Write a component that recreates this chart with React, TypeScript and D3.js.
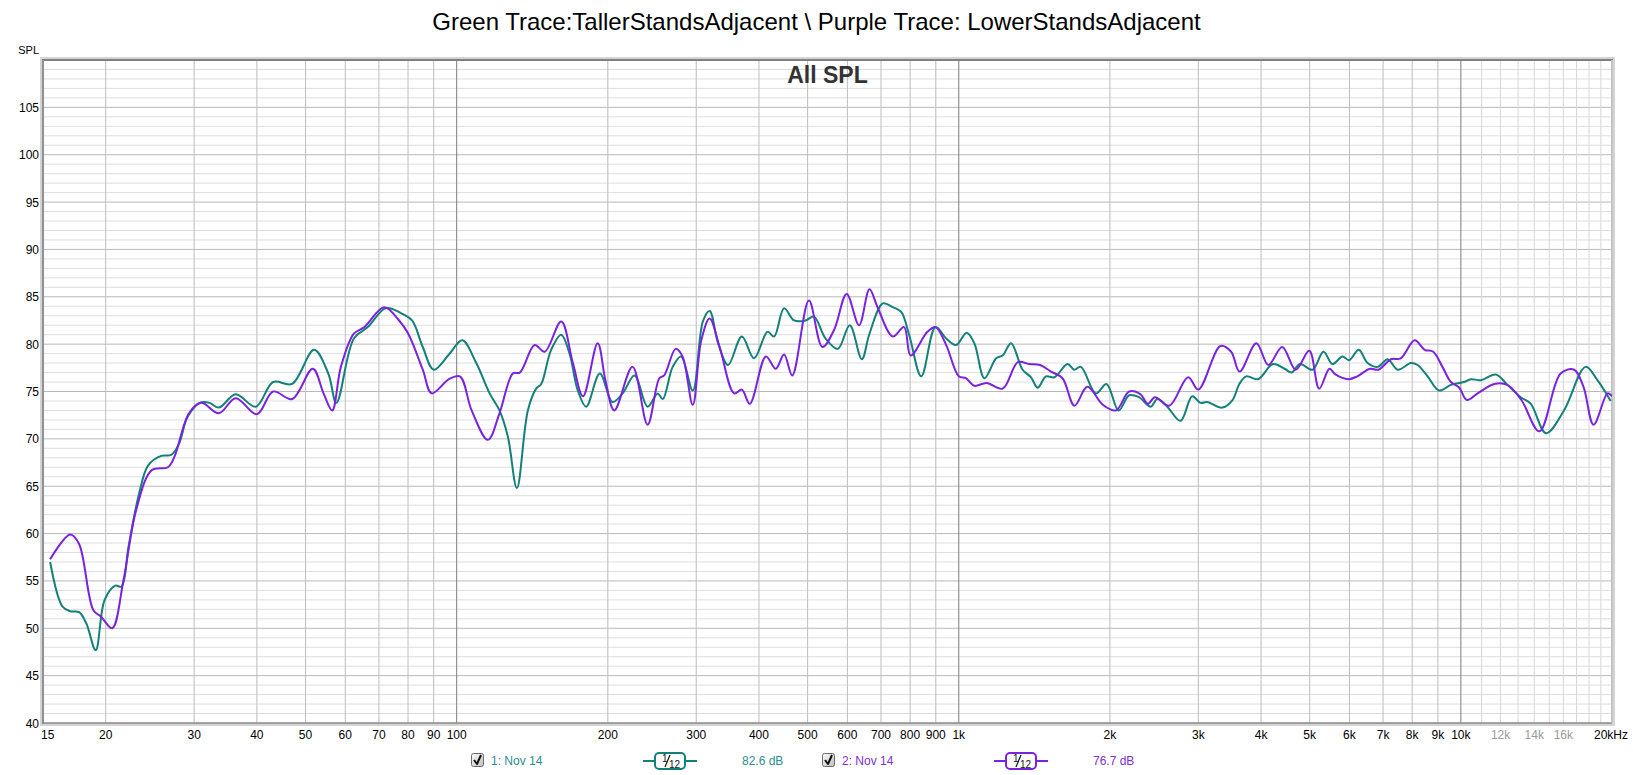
import React from 'react';
import * as d3 from 'd3';

// trace 1 (green) - TallerStandsAdjacent
const greenFreq = [
  15.5, 16.4, 17.0, 17.7, 18.3, 19.1, 19.9, 20.9, 21.5, 22.2, 23.3, 24.3, 25.8, 27.0, 28.0, 29.1,
  30.8, 32.2, 33.6, 36.3, 39.8, 43.1, 47.0, 52.0, 55.5, 57.6, 62.4, 66.5, 72.3, 77.9, 81.5, 85.6,
  90.0, 96.5, 102.6, 109.4, 116.3, 121.7, 126.5, 131.8, 138.6, 144.0, 147.4, 154.2, 161.5, 167.8,
  174.3, 181.1, 192.8, 204.3, 214.1, 226.0, 240.0, 251.4, 257.3, 269.3, 279.9, 295.3, 309.3, 319.0,
  331.6, 347.2, 369.8, 391.0, 416.0, 428.8, 448.8, 470.0, 495.5, 514.7, 542.7, 574.1, 606.6, 641.1,
  664, 706, 739, 768, 798, 842, 899, 944, 988, 1037, 1074, 1125, 1187, 1223, 1271, 1340, 1393,
  1436, 1492, 1550, 1647, 1698, 1751, 1875, 1969, 2082, 2185, 2285, 2411, 2487, 2602, 2765, 2917,
  3031, 3124, 3347, 3509, 3621, 3737, 3944, 4226, 4457, 4600, 4780, 5066, 5325, 5550, 5810, 5990,
  6260, 6520, 6830, 7150, 7485, 7955, 8200, 8585, 9055, 9553, 10150, 10470, 10960, 11740, 12380,
  13160, 13780, 14780, 16050, 17720, 18710, 19880,
];
const greenSpl = [
  57.0, 52.3, 51.8, 51.7, 50.5, 47.7, 53.0, 54.5, 54.4, 58.6, 64.2, 67.2, 68.2, 68.3, 69.5, 72.3,
  73.8, 73.8, 73.3, 74.7, 73.4, 76.0, 75.8, 79.4, 76.9, 73.8, 80.6, 81.8, 83.8, 83.2, 82.5, 79.7,
  77.3, 78.9, 80.4, 78.0, 74.8, 73.0, 70.2, 64.8, 73.0, 75.3, 75.8, 79.4, 81.0, 79.0,
  75.1, 73.4, 76.9, 73.9, 74.8, 76.7, 73.4, 74.8, 74.2, 77.6, 78.7, 75.1, 82.4, 83.5,
  80.1, 77.8, 80.8, 78.5, 81.3, 80.8, 83.8, 82.5, 82.5, 82.9, 80.6, 79.5, 82.0, 78.4,
  81.1, 84.3, 83.9, 83.4, 80.8, 76.6, 81.8, 80.6, 79.9, 81.2, 80.1, 76.4, 78.5, 78.8, 80.1, 77.3, 76.5,
  75.4, 76.6, 76.5, 77.9, 77.3, 77.6, 74.8, 75.8, 73.0, 74.6, 74.4, 73.4, 74.2, 73.4, 71.9, 74.5,
  73.8, 73.9, 73.3, 74.1, 75.8, 76.6, 76.3, 77.9, 77.4, 77.0, 77.9, 77.3, 79.2, 77.9, 78.7, 78.3,
  79.4, 78.0, 77.6, 78.4, 77.3, 78.0, 77.8, 76.6, 75.1, 75.7, 76.0, 76.3, 76.2, 76.8, 75.7,
  74.4, 73.7, 70.6, 73.0, 77.6, 76.2, 74.0,
];

// trace 2 (purple) - LowerStandsAdjacent
const purpleFreq = [
  15.5, 17.0, 17.7, 18.9, 19.6, 20.6, 21.7, 23.0, 24.7, 26.6, 27.4, 29.3, 31.0, 33.6, 36.3, 40.0,
  43.1, 47.0, 51.7, 54.3, 56.5, 58.8, 62.4, 65.5, 71.7, 76.8, 80.1, 85.6, 89.2, 96.5, 101.5, 107.1,
  115.4, 121.7, 129.4, 133.6, 143, 149.7, 161.5, 170.4, 178.5, 190.9, 197.8, 206, 224, 240, 253.3,
  259, 273, 281.7, 295.3, 307, 319, 334, 357, 369.8, 383.5, 413, 432, 448.8, 466, 503, 535, 564.5,
  598, 633, 664, 689, 739, 778, 802, 866, 899, 944, 1000, 1033, 1074, 1136, 1223, 1311, 1380, 1452,
  1526, 1609, 1700, 1803, 1936, 2056, 2185, 2302, 2380, 2460, 2625, 2863, 3000, 3320, 3487, 3625,
  3915, 4135, 4408, 4689, 4990, 5222, 5475, 5625, 5970, 6220, 6590, 6850, 7260, 7590, 8090, 8470,
  8810, 9190, 9553, 9925, 10280, 10800, 11660, 12380, 13200, 14340, 15800, 16810, 17550, 18380,
  19600, 20000,
];
const purpleSpl = [
  57.3, 59.9, 58.9, 51.9, 51.2, 50.0, 55.1, 62.5, 66.7, 67.0, 68.1, 72.7, 73.8, 72.7, 74.3, 72.6,
  75.0, 74.2, 77.4, 74.8, 73.0, 77.6, 81.1, 81.8, 83.9, 82.5, 81.1, 77.3, 74.8, 76.3, 76.6, 73.0,
  69.9, 72.7, 76.9, 77.0, 79.9, 79.2, 82.4, 78.0, 74.5, 80.1, 76.2, 73.0, 77.6, 71.5, 76.4,
  76.7, 79.5, 78.7, 73.6, 80.4, 82.7, 79.7, 74.8, 75.2, 73.7, 78.7, 77.4, 78.9, 76.7, 84.6, 79.7, 81.5,
  85.3, 82.0, 85.8, 83.9, 80.8, 81.8, 78.8, 81.3, 81.8, 79.9, 76.6, 76.4, 75.6, 75.9, 75.3, 78.1, 77.9, 77.8,
  77.1, 76.4, 73.5, 75.5, 73.6, 73.0, 75.0, 74.7, 73.7, 74.4, 73.5, 76.5, 75.2, 79.8, 79.2, 77.1,
  80.1, 77.8, 79.7, 77.3, 79.3, 75.3, 77.4, 76.8, 76.3, 76.6, 77.4, 77.3, 78.4, 78.5, 80.4, 79.4,
  79.2, 77.6, 76.0, 75.4, 74.1, 74.8, 75.8, 75.7, 74.1, 70.8, 76.9, 77.3, 75.5, 71.5,
  74.8, 74.5,
];

const xGridMain = [20, 30, 40, 50, 60, 70, 80, 90, 200, 300, 400, 500, 600, 700, 800, 900,
  2000, 3000, 4000, 5000, 6000, 7000, 8000, 9000];
const xGridDecade = [100, 1000, 10000];
const xGridFine = [11000, 12000, 13000, 14000, 15000, 16000, 17000, 18000, 19000];
const xTicks = [
  { f: 15, t: '15' }, { f: 20, t: '20' }, { f: 30, t: '30' }, { f: 40, t: '40' }, { f: 50, t: '50' },
  { f: 60, t: '60' }, { f: 70, t: '70' }, { f: 80, t: '80' }, { f: 90, t: '90' }, { f: 100, t: '100' },
  { f: 200, t: '200' }, { f: 300, t: '300' }, { f: 400, t: '400' }, { f: 500, t: '500' },
  { f: 600, t: '600' }, { f: 700, t: '700' }, { f: 800, t: '800' }, { f: 900, t: '900' },
  { f: 1000, t: '1k' }, { f: 2000, t: '2k' }, { f: 3000, t: '3k' }, { f: 4000, t: '4k' },
  { f: 5000, t: '5k' }, { f: 6000, t: '6k' }, { f: 7000, t: '7k' }, { f: 8000, t: '8k' },
  { f: 9000, t: '9k' }, { f: 10000, t: '10k' }, { f: 12000, t: '12k' }, { f: 14000, t: '14k' },
  { f: 16000, t: '16k' }, { f: 20000, t: '20kHz' },
];
const greyTicks = ['12k', '14k', '16k'];
const yTicks = [40, 45, 50, 55, 60, 65, 70, 75, 80, 85, 90, 95, 100, 105];

const titleText = 'Green Trace:TallerStandsAdjacent \\ Purple Trace: LowerStandsAdjacent';
const legendNames = ['1: Nov 14', '2: Nov 14'];
const legendLevels = ['82.6 dB', '76.7 dB'];
const traceColors = ['#13807a', '#7a22e0'];
const legendTextColors = ['#2a8f8f', '#7d2fd8'];

const W = 1633;
const H = 775;
const FONT = 'Arial, "Liberation Sans", Helvetica, sans-serif';

const Checkbox: React.FC<{ x: number; y: number }> = ({ x, y }) => (
  <g transform={`translate(${x},${y})`}>
    <rect x={0.5} y={0.5} width={12} height={13} rx={2} fill="url(#cbGrad)" stroke="#6a6a6a" />
    <path d="M3,7 L6,11 L10,2" fill="none" stroke="#111" strokeWidth={2} strokeLinejoin="round" />
  </g>
);

const SmoothBadge: React.FC<{ x: number; y: number; color: string }> = ({ x, y, color }) => (
  <g transform={`translate(${x},${y})`}>
    <line x1={0} x2={54} y1={8} y2={8} stroke={color} strokeWidth={2} />
    <rect x={12} y={0} width={30} height={16} rx={4} fill="#fff" stroke={color} strokeWidth={2} />
    <text x={19} y={9} fontSize={10} fontFamily={FONT} fill="#111">1</text>
    <line x1={22} y1={14} x2={27} y2={2} stroke="#111" strokeWidth={1.2} />
    <text x={26} y={14.5} fontSize={10} fontFamily={FONT} fill="#111">12</text>
  </g>
);

export default function App() {
  const left = 43, right = 1612, top = 60, bottom = 723;
  const x = d3.scaleLog().domain([15, 20000]).range([left, right]);
  const y = d3.scaleLinear().domain([40, 110]).range([bottom, top]);

  const line = d3.line<[number, number]>()
    .x(d => x(d[0]))
    .y(d => y(d[1]))
    .curve(d3.curveCatmullRom.alpha(0.5));

  const greenPath = line(greenFreq.map((f, i) => [f, greenSpl[i]] as [number, number])) || '';
  const purplePath = line(purpleFreq.map((f, i) => [f, purpleSpl[i]] as [number, number])) || '';

  const dbLines = d3.range(41, 110);

  return (
    <div style={{ position: 'absolute', left: 0, top: 0 }}>
      <svg width={W} height={H} style={{ display: 'block', background: '#fff' }}>
        <defs>
          <linearGradient id="cbGrad" x1="0" y1="0" x2="1" y2="1">
            <stop offset="0%" stopColor="#ffffff" />
            <stop offset="100%" stopColor="#bdbdbd" />
          </linearGradient>
          <clipPath id="plotClip">
            <rect x={left} y={top} width={right - left} height={bottom - top} />
          </clipPath>
        </defs>

        {/* title */}
        <text x={W / 2} y={30} textAnchor="middle" fontSize={24} fontFamily={FONT} fill="#000">
          {titleText}
        </text>
        <text x={39} y={54} textAnchor="end" fontSize={11} fontFamily={FONT} fill="#000">SPL</text>

        {/* frame shadow */}
        <rect x={left - 3} y={top - 3} width={right - left + 6} height={bottom - top + 6} fill="#d4d4d4" />
        <rect x={left} y={top} width={right - left} height={bottom - top} fill="#fff" />

        {/* horizontal grid */}
        {dbLines.map(v => (
          <line key={'h' + v} x1={left} x2={right} y1={y(v)} y2={y(v)}
            stroke={v % 5 === 0 ? '#b9b9b9' : '#dedede'} strokeWidth={1} />
        ))}
        {/* vertical grid */}
        {xGridFine.map(f => (
          <line key={'vf' + f} x1={x(f)} x2={x(f)} y1={top} y2={bottom} stroke="#d6d6d6" />
        ))}
        {xGridMain.map(f => (
          <line key={'vm' + f} x1={x(f)} x2={x(f)} y1={top} y2={bottom} stroke="#bdbdbd" />
        ))}
        {xGridDecade.map(f => (
          <line key={'vd' + f} x1={x(f)} x2={x(f)} y1={top} y2={bottom} stroke="#7d7d7d" />
        ))}

        {/* frame borders */}
        <line x1={left - 1} x2={right + 1} y1={top} y2={top} stroke="#808080" strokeWidth={2} />
        <line x1={left} x2={left} y1={top} y2={bottom + 1} stroke="#909090" strokeWidth={2} />
        <line x1={left} x2={right} y1={bottom} y2={bottom} stroke="#8a8a8a" strokeWidth={1.5} />
        <line x1={right} x2={right} y1={top} y2={bottom} stroke="#c4c4c4" strokeWidth={2} />

        <text x={(left + right) / 2} y={83} textAnchor="middle" fontSize={23} fontWeight="bold"
          fontFamily={FONT} fill="#333">All SPL</text>

        {/* traces */}
        <g clipPath="url(#plotClip)" fill="none" strokeWidth={2} strokeLinejoin="round">
          <path d={greenPath} stroke={traceColors[0]} />
          <path d={purplePath} stroke={traceColors[1]} />
        </g>

        {/* y axis labels */}
        {yTicks.map(v => (
          <text key={'y' + v} x={39} y={y(v) + 4.5} textAnchor="end" fontSize={12} fontFamily={FONT} fill="#000">
            {v}
          </text>
        ))}
        {/* x axis labels */}
        {xTicks.map(({ f, t }, i) => {
          const isFirst = i === 0;
          const isLast = i === xTicks.length - 1;
          return (
            <text key={'x' + t}
              x={isFirst ? left - 2 : isLast ? 1628 : x(f)}
              y={739}
              textAnchor={isFirst ? 'start' : isLast ? 'end' : 'middle'}
              fontSize={12} fontFamily={FONT}
              fill={greyTicks.includes(t) ? '#9a9a9a' : '#000'}>
              {t}
            </text>
          );
        })}

        {/* legend */}
        {legendNames.map((name, i) => {
          const ox = 471 + i * 351;
          return (
            <g key={name + i}>
              <Checkbox x={ox} y={753} />
              <text x={ox + 20} y={765} fontSize={12} fontFamily={FONT} fill={legendTextColors[i]}>{name}</text>
              <SmoothBadge x={ox + 172} y={753} color={traceColors[i]} />
              <text x={ox + 271} y={765} fontSize={12} fontFamily={FONT} fill={legendTextColors[i]}>
                {legendLevels[i]}
              </text>
            </g>
          );
        })}
      </svg>
    </div>
  );
}
